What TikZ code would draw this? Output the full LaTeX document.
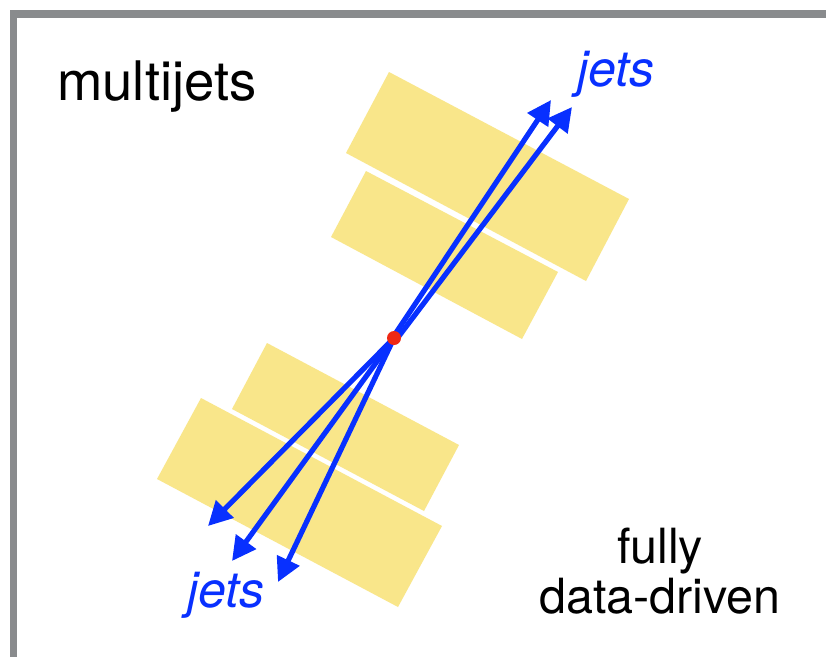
\documentclass[tikz,border=0pt]{standalone}
\usepackage{fontspec}
\setmainfont{TeX Gyre Heros}
\usetikzlibrary{arrows.meta}
\definecolor{frameGray}{RGB}{137,139,141}
\definecolor{calYellow}{RGB}{249,230,138}
\definecolor{jetBlue}{RGB}{8,48,255}
\definecolor{vtxRed}{RGB}{238,40,20}
\tikzset{
  calo/.style={fill=calYellow, draw=none},
  jetarrow/.style={draw=jetBlue, line width=5.2pt, -{Triangle[length=24pt,width=24pt]}},
  jetlabel/.style={text=jetBlue, inner sep=0pt, anchor=base west, font=\fontsize{50}{56}\selectfont\itshape},
  plainlabel/.style={inner sep=0pt, text=black}
}
\begin{document}
\begin{tikzpicture}[x=1pt,y=-1pt]
\clip (0,0) rectangle (826,656);
\useasboundingbox (0,0) rectangle (826,656);
\fill[white] (0,0) rectangle (826,656);
% frame
\draw[frameGray, line width=7.5pt] (13.7,14) rectangle (900,760);
% calorimeter blocks
\fill[calo] (389,72) -- (629,199) -- (586,281) -- (346,153) -- cycle;
\fill[calo] (366,171) -- (558,272) -- (522,339) -- (331,237) -- cycle;
\fill[calo] (267,343) -- (459,445) -- (424,511) -- (232,409) -- cycle;
\fill[calo] (201,398) -- (442,526) -- (398,607) -- (157,479) -- cycle;
% vertex and tips
\coordinate (vtx) at (394,338);
\coordinate (s1) at (394.5,335);
\coordinate (s2) at (397.5,338);
\coordinate (t1) at (551,100);
\coordinate (t2) at (572,107);
\coordinate (tA) at (208,526);
\coordinate (tB) at (232,561);
\coordinate (tC) at (278,582);
\draw[jetarrow] (s1) -- (t1);
\draw[jetarrow] (s2) -- (t2);
\draw[jetarrow] (vtx) -- (tA);
\draw[jetarrow] (vtx) -- (tB);
\draw[jetarrow] (vtx) -- (tC);
\node[circle, fill=vtxRed, minimum size=14pt, inner sep=0pt] (vertex) at (vtx) {};
% labels
\node[plainlabel, anchor=base west] (title) at (57,100) {\fontsize{54.5}{60}\selectfont multijets};
\node[jetlabel] (jetsTop) at (577,86) {jets};
\node[jetlabel] (jetsBot) at (187,607) {jets};
\node[plainlabel, anchor=base] (fully) at (660,563) {\fontsize{48.5}{54}\selectfont fully};
\node[plainlabel, anchor=base] (dd) at (660,613) {\fontsize{48.5}{54}\selectfont data-driven};
\end{tikzpicture}
\end{document}
